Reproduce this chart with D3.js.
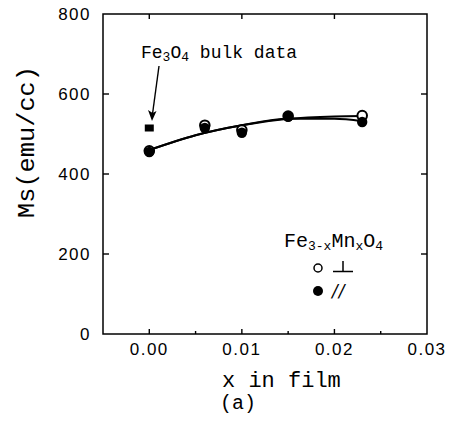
<!DOCTYPE html>
<html>
<head>
<meta charset="utf-8">
<script src="https://cdn.jsdelivr.net/npm/d3@7"></script>
<style>
  body { margin: 0; background: #fff; }
  svg { display: block; }
  .mono { font-family: "Liberation Mono", "Courier New", monospace; fill: #000; }
  .tick-label { font-family: "Liberation Sans", Arial, sans-serif; font-size: 17px; letter-spacing: 1.5px; fill: #000; }
</style>
</head>
<body>
<svg width="452" height="435"></svg>
<script>
// x in film (Mn content)
var xPerp = [0, 0.006, 0.010, 0.015, 0.023];
var msPerp = [458, 522, 510, 545, 546];     // open circles, perpendicular
var xPar = [0, 0.006, 0.010, 0.015, 0.023];
var msPar = [455, 515, 503, 543, 530];      // filled circles, parallel
var bulkX = [0];
var bulkMs = [515];                          // Fe3O4 bulk data (square)

// fitted curves
var fitX = [0, 0.005, 0.010, 0.015, 0.020, 0.023];
var fitPerp = [460, 497, 522, 538, 544, 545];
var fitPar = [460, 497, 522, 538, 538, 532];

var xTicks = [0, 0.01, 0.02, 0.03];
var xMinor = [0.005, 0.015, 0.025];
var yTicks = [0, 200, 400, 600, 800];

var svg = d3.select("svg"),
    plotL = 103, plotR = 427, plotT = 14, plotB = 334;

var x = d3.scaleLinear().domain([-0.005, 0.03]).range([plotL, plotR]),
    y = d3.scaleLinear().domain([0, 800]).range([plotB, plotT]);

svg.append("rect").attr("width", 452).attr("height", 435).attr("fill", "#fff");

// frame
svg.append("rect")
  .attr("x", plotL).attr("y", plotT)
  .attr("width", plotR - plotL).attr("height", plotB - plotT)
  .attr("fill", "none").attr("stroke", "#000").attr("stroke-width", 1.5);

// ticks (inward) on all four sides
var ax = svg.append("g").attr("stroke", "#000").attr("stroke-width", 1.4);
xTicks.filter(function(d) { return x(d) < plotR - 2; }).forEach(function(d) {
  ax.append("line").attr("x1", x(d)).attr("x2", x(d)).attr("y1", plotB).attr("y2", plotB - 5);
  ax.append("line").attr("x1", x(d)).attr("x2", x(d)).attr("y1", plotT).attr("y2", plotT + 5);
});
xMinor.forEach(function(d) {
  ax.append("line").attr("x1", x(d)).attr("x2", x(d)).attr("y1", plotB).attr("y2", plotB - 3);
});
yTicks.slice(1, -1).forEach(function(d) {
  ax.append("line").attr("x1", plotL).attr("x2", plotL + 6).attr("y1", y(d)).attr("y2", y(d));
  ax.append("line").attr("x1", plotR).attr("x2", plotR - 6).attr("y1", y(d)).attr("y2", y(d));
});

// tick labels
svg.append("g").selectAll("text")
  .data(xTicks)
  .enter().append("text")
    .attr("class", "tick-label")
    .attr("x", function(d) { return x(d); })
    .attr("y", 355)
    .attr("text-anchor", "middle")
    .text(function(d) { return d3.format(".2f")(d); });

svg.append("g").selectAll("text")
  .data(yTicks)
  .enter().append("text")
    .attr("class", "tick-label")
    .attr("x", 91)
    .attr("y", function(d) { return y(d); })
    .attr("dy", "0.36em")
    .attr("text-anchor", "end")
    .text(function(d) { return d; });

// axis titles
svg.append("text")
  .attr("class", "mono")
  .attr("transform", "translate(34,142) rotate(-90)")
  .attr("text-anchor", "middle")
  .attr("font-size", 24)
  .attr("textLength", 152)
  .attr("lengthAdjust", "spacingAndGlyphs")
  .text("Ms(emu/cc)");

svg.append("text")
  .attr("class", "mono")
  .attr("x", 222).attr("y", 387)
  .attr("font-size", 22)
  .text("x in film");

svg.append("text")
  .attr("class", "mono")
  .attr("x", 220).attr("y", 409)
  .attr("font-size", 20)
  .text("(a)");

// fitted curves
var line = d3.line()
  .x(function(d) { return x(d[0]); })
  .y(function(d) { return y(d[1]); })
  .curve(d3.curveMonotoneX);

svg.append("path")
  .datum(fitX.map(function(d, i) { return [d, fitPerp[i]]; }))
  .attr("d", line)
  .attr("fill", "none").attr("stroke", "#000").attr("stroke-width", 2);

svg.append("path")
  .datum(fitX.map(function(d, i) { return [d, fitPar[i]]; }))
  .attr("d", line)
  .attr("fill", "none").attr("stroke", "#000").attr("stroke-width", 2);

// open circles first, filled on top
svg.append("g").selectAll("circle")
  .data(xPerp)
  .enter().append("circle")
    .attr("cx", function(d) { return x(d); })
    .attr("cy", function(d, i) { return y(msPerp[i]); })
    .attr("r", 4.8)
    .attr("fill", "#fff").attr("stroke", "#000").attr("stroke-width", 2);

svg.append("g").selectAll("circle")
  .data(xPar)
  .enter().append("circle")
    .attr("cx", function(d) { return x(d); })
    .attr("cy", function(d, i) { return y(msPar[i]); })
    .attr("r", 5.2)
    .attr("fill", "#000");

svg.append("g").selectAll("rect")
  .data(bulkX)
  .enter().append("rect")
    .attr("x", function(d) { return x(d) - 4.5; })
    .attr("y", function(d, i) { return y(bulkMs[i]) - 3.5; })
    .attr("width", 9).attr("height", 7)
    .attr("fill", "#000");

// bulk annotation + arrow
var bulk = svg.append("text")
  .attr("class", "mono")
  .attr("x", 141).attr("y", 58)
  .attr("font-size", 18);
bulk.append("tspan").text("Fe");
bulk.append("tspan").attr("font-size", 13).attr("dy", 3).text("3");
bulk.append("tspan").attr("dy", -3).text("O");
bulk.append("tspan").attr("font-size", 13).attr("dy", 3).text("4");
bulk.append("tspan").attr("dy", -3).text(" bulk data");

svg.append("line")
  .attr("x1", 159).attr("y1", 66).attr("x2", 152.5).attr("y2", 114)
  .attr("stroke", "#000").attr("stroke-width", 1.4);
svg.append("path")
  .attr("d", "M152,121 L148,110 L152.6,113 L156.5,111 Z")
  .attr("fill", "#000");

// legend
var leg = svg.append("text")
  .attr("class", "mono")
  .attr("x", 284).attr("y", 247)
  .attr("font-size", 20);
leg.append("tspan").text("Fe");
leg.append("tspan").attr("font-size", 13).attr("dy", 3).text("3-x");
leg.append("tspan").attr("dy", -3).text("Mn");
leg.append("tspan").attr("font-size", 13).attr("dy", 3).text("x");
leg.append("tspan").attr("dy", -3).text("O");
leg.append("tspan").attr("font-size", 13).attr("dy", 3).text("4");

svg.append("circle").attr("cx", 318).attr("cy", 268).attr("r", 4)
  .attr("fill", "#fff").attr("stroke", "#000").attr("stroke-width", 1.5);
// perpendicular sign
svg.append("path")
  .attr("d", "M333,271.5 H353 M343,271.5 V261")
  .attr("fill", "none").attr("stroke", "#000").attr("stroke-width", 1.5);

svg.append("circle").attr("cx", 318).attr("cy", 291).attr("r", 5).attr("fill", "#000");
svg.append("text")
  .attr("x", 332).attr("y", 297)
  .attr("font-family", "DejaVu Sans").attr("font-style", "italic").attr("font-size", 17)
  .attr("letter-spacing", 1)
  .attr("fill", "#000")
  .text("//");
</script>
</body>
</html>
